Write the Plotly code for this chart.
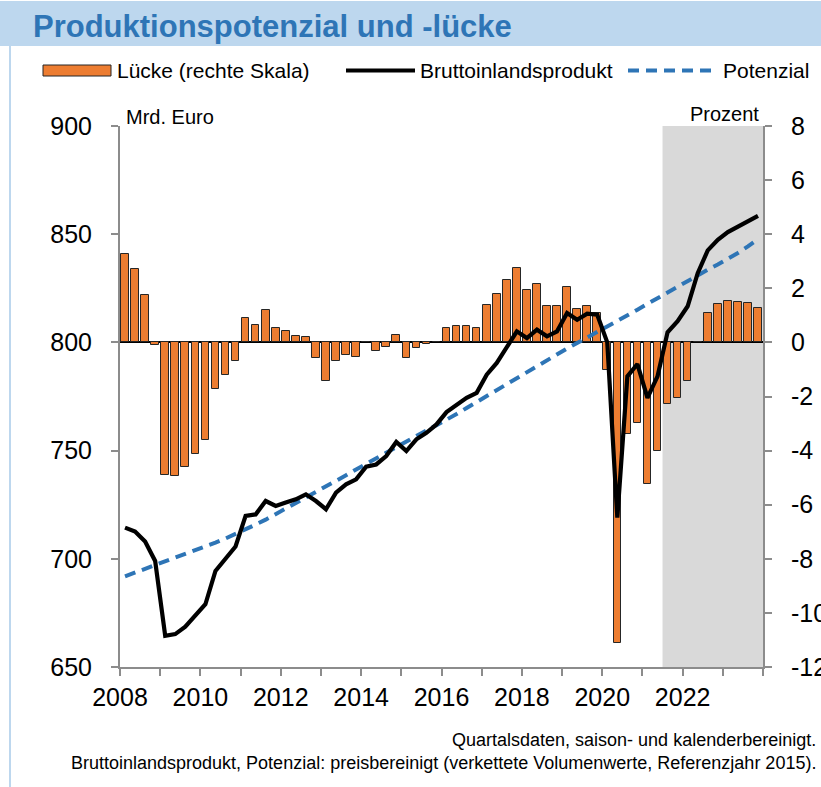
import plotly.graph_objects as go

# ---------------- data ----------------
years = list(range(2008, 2024))
quarters = [f"{y}Q{q}" for y in years for q in range(1, 5)]

# Output gap in % of potential (right axis)
gap = [3.25, 2.70, 1.77, -0.08,
       -4.90, -4.93, -4.60, -4.14,
       -3.62, -1.73, -1.20, -0.70,
       0.89, 0.64, 1.20, 0.54,
       0.41, 0.25, 0.19, -0.58,
       -1.42, -0.69, -0.48, -0.54,
       0.02, -0.33, -0.16, 0.28,
       -0.58, -0.22, -0.06, 0.02,
       0.53, 0.60, 0.59, 0.53,
       1.40, 1.80, 2.32, 2.75,
       1.95, 2.15, 1.35, 1.36,
       2.06, 1.22, 1.35, 1.10,
       -1.03, -11.12, -3.40, -2.97,
       -5.23, -4.02, -2.26, -2.05,
       -1.44, 0.00, 1.09, 1.41,
       1.54, 1.51, 1.44, 1.28]

# Real GDP, bn euro (left axis)
gdp = [714.4, 712.6, 708.0, 699.0,
       664.4, 665.2, 668.6, 673.7,
       679.0, 694.4, 699.8, 705.7,
       719.8, 720.5, 726.7, 724.4,
       726.0, 727.5, 729.8, 726.7,
       722.9, 730.6, 734.4, 736.7,
       742.6, 743.6, 747.5, 754.0,
       749.8, 755.2, 758.2, 762.1,
       767.8, 771.3, 774.4, 776.7,
       785.1, 790.5, 797.4, 805.1,
       802.0, 805.9, 802.8, 805.1,
       813.6, 810.5, 813.3, 812.8,
       800.0, 719.0, 784.3, 790.0,
       774.4, 784.3, 804.7, 809.8,
       816.7, 832.0, 842.5, 847.4,
       851.0, 853.6, 856.2, 858.5]

# Potential output, bn euro (left axis)
potential = [691.9, 693.6, 695.3, 697.0,
             698.6, 700.3, 702.0, 703.8,
             705.6, 707.5, 709.4, 711.4,
             713.5, 715.8, 718.1, 720.6,
             723.1, 725.7, 728.2, 730.8,
             733.3, 736.0, 738.6, 741.3,
             743.9, 746.5, 749.2, 751.9,
             754.4, 756.8, 759.3, 761.7,
             764.1, 766.9, 769.7, 772.5,
             775.3, 778.1, 780.8, 783.6,
             786.3, 789.0, 791.8, 794.5,
             797.2, 799.7, 802.2, 804.7,
             807.2, 809.7, 812.4, 815.1,
             817.8, 820.5, 823.2, 825.9,
             828.6, 831.3, 833.6, 836.0,
             838.5, 841.3, 844.4, 847.7]

forecast_start = 2021.5
x_ticks = list(range(2008, 2025))
x_ticklabels = [str(y) if (y % 2 == 0 and y < 2024) else "" for y in x_ticks]
left_ticks = [650, 700, 750, 800, 850, 900]
right_ticks = [-12, -10, -8, -6, -4, -2, 0, 2, 4, 6, 8]
right_ticklabels = [str(v) for v in right_ticks]

# quarter midpoints on a continuous time axis
xpos = [int(q[:4]) + (int(q[-1]) - 0.5) / 4 for q in quarters]

# ---------------- layout helpers ----------------
W, H = 821, 787
L, R, T, B = 120, 763, 126, 667


def px(x):
    """window x (px) -> paper x"""
    return (x - L) / (R - L)


def py(y):
    """window y (px) -> paper y"""
    return (B - y) / (B - T)


FONT = "Liberation Sans, Arial, sans-serif"
ORANGE = "#ED7D31"
BLUE = "#2E75B6"
GRID = "#8C8C8C"

fig = go.Figure()

# bars on the base axis (right-hand scale) so the lines are drawn on top
fig.add_trace(go.Bar(
    x=xpos, y=gap, yaxis="y", width=0.19,
    marker=dict(color=ORANGE, line=dict(color="#262626", width=1)),
    name="Lücke (rechte Skala)", showlegend=False))

fig.add_trace(go.Scatter(
    x=xpos, y=potential, mode="lines", yaxis="y2",
    line=dict(color=BLUE, width=4, dash="11px,7px"),
    name="Potenzial", showlegend=False))

fig.add_trace(go.Scatter(
    x=xpos, y=gdp, mode="lines", yaxis="y2",
    line=dict(color="black", width=4.2),
    name="Bruttoinlandsprodukt", showlegend=False))

shapes = []
# forecast shading
shapes.append(dict(type="rect", xref="x", yref="paper", x0=forecast_start, x1=2024,
                   y0=0, y1=1, fillcolor="#D9D9D9", line=dict(width=0), layer="below"))
# title band
shapes.append(dict(type="rect", xref="paper", yref="paper", x0=px(0), x1=px(W),
                   y0=py(46), y1=py(1), fillcolor="#BDD7EE", line=dict(width=0)))
# left panel border
shapes.append(dict(type="line", xref="paper", yref="paper", x0=px(10), x1=px(10),
                   y0=py(46), y1=py(H), line=dict(color="#BDD7EE", width=2)))
# legend symbols
shapes.append(dict(type="rect", xref="paper", yref="paper", x0=px(43), x1=px(111),
                   y0=py(76), y1=py(65), fillcolor=ORANGE,
                   line=dict(color="#262626", width=1)))
shapes.append(dict(type="line", xref="paper", yref="paper", x0=px(346), x1=px(415),
                   y0=py(70.5), y1=py(70.5), line=dict(color="black", width=4.2)))
shapes.append(dict(type="line", xref="paper", yref="paper", x0=px(628), x1=px(718),
                   y0=py(70.5), y1=py(70.5), line=dict(color=BLUE, width=4, dash="11px,7px")))

annotations = [
    dict(text="<b>Produktionspotenzial und -lücke</b>", xref="paper", yref="paper",
         x=px(31), y=py(26), xanchor="left", yanchor="middle", showarrow=False,
         font=dict(family=FONT, size=31, color=BLUE)),
    dict(text="Lücke (rechte Skala)", xref="paper", yref="paper", x=px(115), y=py(70.5),
         xanchor="left", yanchor="middle", showarrow=False,
         font=dict(family=FONT, size=21, color="black")),
    dict(text="Bruttoinlandsprodukt", xref="paper", yref="paper", x=px(418), y=py(70.5),
         xanchor="left", yanchor="middle", showarrow=False,
         font=dict(family=FONT, size=21, color="black")),
    dict(text="Potenzial", xref="paper", yref="paper", x=px(721), y=py(70.5),
         xanchor="left", yanchor="middle", showarrow=False,
         font=dict(family=FONT, size=21, color="black")),
    dict(text="Mrd. Euro", xref="paper", yref="paper", x=px(124), y=py(117),
         xanchor="left", yanchor="middle", showarrow=False,
         font=dict(family=FONT, size=20, color="black")),
    dict(text="Prozent", xref="paper", yref="paper", x=px(761), y=py(114),
         xanchor="right", yanchor="middle", showarrow=False,
         font=dict(family=FONT, size=20, color="black")),
    dict(text="Quartalsdaten, saison- und kalenderbereinigt.", xref="paper", yref="paper",
         x=px(818), y=py(740), xanchor="right", yanchor="middle", showarrow=False,
         font=dict(family=FONT, size=18, color="black")),
    dict(text="Bruttoinlandsprodukt, Potenzial: preisbereinigt (verkettete Volumenwerte, Referenzjahr 2015).",
         xref="paper", yref="paper",
         x=px(818), y=py(763), xanchor="right", yanchor="middle", showarrow=False,
         font=dict(family=FONT, size=18, color="black")),
]

axis_common = dict(showgrid=False, showline=True, linecolor=GRID, automargin=False,
                   linewidth=2, ticks="outside", tickcolor=GRID, ticklen=7, tickwidth=1.5,
                   tickfont=dict(family=FONT, size=25, color="black"))

fig.update_layout(
    width=W, height=H, autosize=False,
    margin=dict(l=L, r=W - R, t=T, b=H - B, pad=0, autoexpand=False),
    paper_bgcolor="white", plot_bgcolor="white",
    showlegend=False, bargap=0,
    xaxis=dict(range=[2008, 2024], tickmode="array", tickvals=x_ticks,
               ticktext=x_ticklabels, ticklabelstandoff=0, zeroline=False,
               **axis_common),
    # gap axis (right) is the base axis; its zero line is the bar baseline
    yaxis=dict(range=[-12, 8], tickmode="array", tickvals=right_ticks,
               ticktext=right_ticklabels, side="right",
               zeroline=True, zerolinecolor="black", zerolinewidth=2,
               ticklabelstandoff=14, **axis_common),
    # GDP / potential axis (left) overlays it
    yaxis2=dict(range=[650, 900], tickmode="array", tickvals=left_ticks,
                ticktext=[str(v) for v in left_ticks], side="left", overlaying="y",
                zeroline=False, ticklabelstandoff=14, **axis_common),
    shapes=shapes, annotations=annotations,
)

fig.write_html("out.html",
               config={"displayModeBar": False},
               post_script="document.body.style.margin='0';document.body.style.overflow='hidden';")
